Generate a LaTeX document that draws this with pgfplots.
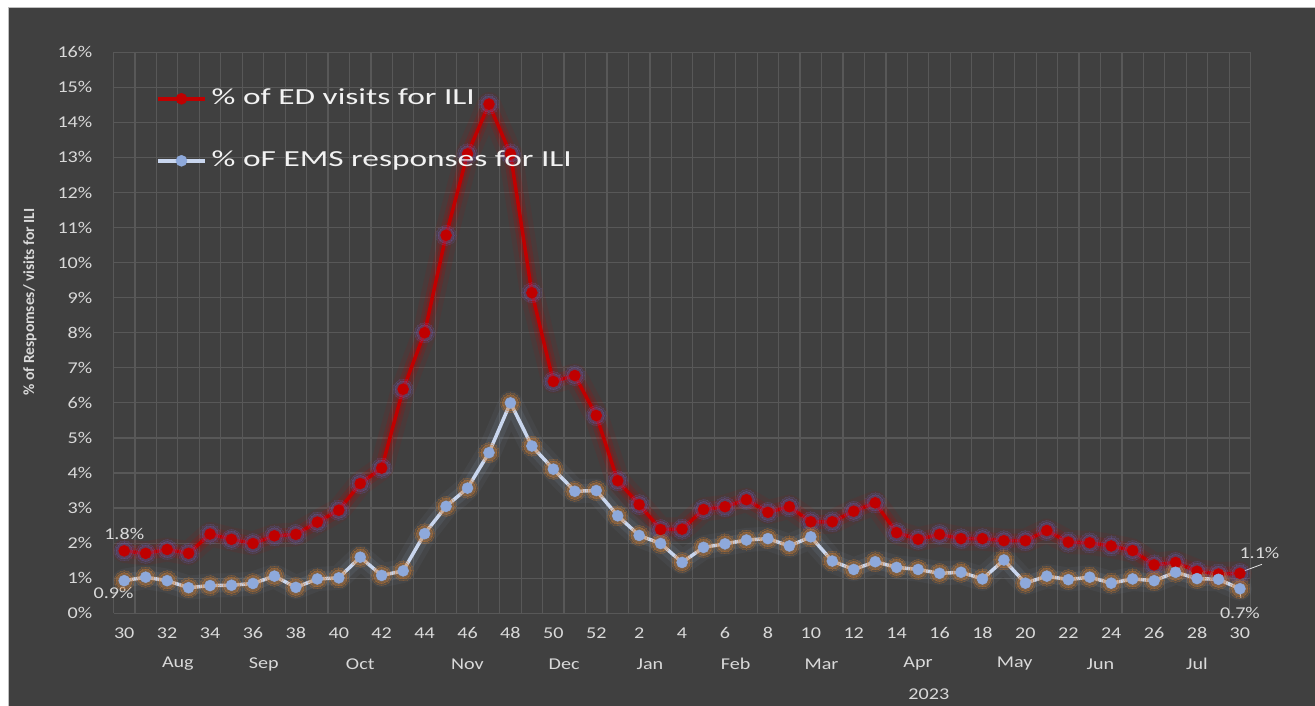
\documentclass[border=0pt]{standalone}
\usepackage{fontspec}
\setmainfont[FakeStretch=1.22]{Carlito}
\newfontfamily\ylabfont{Carlito}
\newfontfamily\legfont[FakeStretch=1.45]{Carlito}
\usepackage{pgfplots}
\usepackage{pgfplotstable}
\pgfplotsset{compat=1.18}

\definecolor{bg}{HTML}{404040}
\definecolor{gridc}{HTML}{585858}
\definecolor{tickc}{HTML}{D9D9D9}
\definecolor{legc}{HTML}{F2F2F2}
\definecolor{edc}{HTML}{C00000}
\definecolor{edglow}{HTML}{6A5CB0}
\definecolor{emsline}{HTML}{C9D6EE}
\definecolor{emsmark}{HTML}{8EA9DB}
\definecolor{emsglow}{HTML}{8497B0}
\definecolor{emsmglow}{HTML}{C8782F}

% idx: position on the axis, week: ISO week, ed / ems in percent
\pgfplotstableread{
idx week ed ems
0 30 1.78 0.93
1 31 1.71 1.03
2 32 1.82 0.93
3 33 1.71 0.73
4 34 2.26 0.79
5 35 2.11 0.80
6 36 1.99 0.85
7 37 2.21 1.06
8 38 2.25 0.74
9 39 2.60 0.98
10 40 2.94 1.01
11 41 3.70 1.60
12 42 4.14 1.08
13 43 6.39 1.21
14 44 8.00 2.27
15 45 10.78 3.05
16 46 13.10 3.57
17 47 14.52 4.58
18 48 13.10 6.00
19 49 9.14 4.77
20 50 6.61 4.11
21 51 6.78 3.48
22 52 5.64 3.50
23 1 3.78 2.78
24 2 3.10 2.22
25 3 2.39 1.99
26 4 2.40 1.45
27 5 2.96 1.88
28 6 3.04 1.98
29 7 3.24 2.09
30 8 2.88 2.13
31 9 3.04 1.92
32 10 2.61 2.18
33 11 2.61 1.49
34 12 2.91 1.25
35 13 3.15 1.47
36 14 2.30 1.31
37 15 2.11 1.25
38 16 2.25 1.14
39 17 2.13 1.17
40 18 2.13 0.98
41 19 2.07 1.52
42 20 2.07 0.86
43 21 2.36 1.06
44 22 2.03 0.96
45 23 2.01 1.03
46 24 1.92 0.86
47 25 1.79 0.98
48 26 1.38 0.93
49 27 1.45 1.17
50 28 1.20 0.99
51 29 1.12 0.97
52 30 1.14 0.70
}\ilidata

\begin{document}
\begin{tikzpicture}
\useasboundingbox (0,0) rectangle (1315bp,706bp);
\fill[white] (0,0) rectangle (1315bp,706bp);
\fill[bg] (8bp,0) rectangle (1315bp,698bp);
\draw[gray!50, line width=1bp] (8bp,0) -- (8bp,698bp) -- (1315bp,698bp);

\begin{axis}[
  at={(113.5bp,92.7bp)}, anchor=south west,
  scale only axis, width=1137.2bp, height=561.1bp,
  xmin=-0.5, xmax=52.5, ymin=0, ymax=16,
  clip=false,
  axis line style={draw=none},
  major tick length=0pt, minor tick length=0pt,
  xtick={0,2,...,52},
  xticklabels={30,32,34,36,38,40,42,44,46,48,50,52,2,4,6,8,10,12,14,16,18,20,22,24,26,28,30},
  minor xtick={-0.5,0.5,...,52.5},
  ytick={0,1,...,16},
  yticklabel={\pgfmathprintnumber{\tick}\%},
  /pgf/number format/assume math mode=true,
  ymajorgrids, xminorgrids,
  major grid style={draw=gridc, line width=1.2bp},
  minor grid style={draw=gridc, line width=1.2bp},
  tick label style={font=\fontsize{16.5bp}{20bp}\selectfont, text=tickc},
  xticklabel style={anchor=center, inner sep=0pt, yshift=-20bp},
  yticklabel style={anchor=east, inner sep=0pt, xshift=-21bp},
  legend image code/.code={
    \draw[#1, mark repeat=2, mark phase=2]
      plot coordinates {(0bp,0bp) (23.5bp,0bp) (47bp,0bp)};},
  legend cell align=left,
  legend style={draw=none, fill=none, at={(0.0374,0.936)}, anchor=north west,
    inner sep=0pt, row sep=41bp, column sep=5bp,
    font=\legfont\fontsize{23bp}{27bp}\selectfont, text=legc,
    nodes={inner sep=0pt, text height=16bp, text depth=5bp}},
]
% glow under the ED series
\addplot[forget plot, draw=edc, line width=24bp, opacity=0.08, line join=round, line cap=round] table[x=idx,y=ed]{\ilidata};
\addplot[forget plot, draw=edc, line width=14bp, opacity=0.16, line join=round, line cap=round] table[x=idx,y=ed]{\ilidata};
\addplot[forget plot, draw=edc, line width=8bp, opacity=0.22, line join=round, line cap=round] table[x=idx,y=ed]{\ilidata};
\addplot[forget plot, only marks, mark=*, mark size=10bp, mark options={fill=edglow, draw=edglow, line width=0pt, opacity=0.14}] table[x=idx,y=ed]{\ilidata};
\addplot[forget plot, only marks, mark=*, mark size=8bp, mark options={fill=edglow, draw=edglow, line width=0pt, opacity=0.22}] table[x=idx,y=ed]{\ilidata};
% glow under the EMS series
\addplot[forget plot, draw=emsglow, line width=24bp, opacity=0.08, line join=round, line cap=round] table[x=idx,y=ems]{\ilidata};
\addplot[forget plot, draw=emsglow, line width=14bp, opacity=0.14, line join=round, line cap=round] table[x=idx,y=ems]{\ilidata};
\addplot[forget plot, only marks, mark=*, mark size=10bp, mark options={fill=emsmglow, draw=emsmglow, line width=0pt, opacity=0.18}] table[x=idx,y=ems]{\ilidata};
\addplot[forget plot, only marks, mark=*, mark size=8bp, mark options={fill=emsmglow, draw=emsmglow, line width=0pt, opacity=0.30}] table[x=idx,y=ems]{\ilidata};

\addplot[draw=edc, line width=3.5bp, mark=*, mark size=5.5bp, mark options={solid, fill=edc, draw=edc, line width=0.5bp}] table[x=idx,y=ed]{\ilidata};
\addlegendentry{\% of ED visits for ILI}
\addplot[draw=emsline, line width=3.5bp, mark=*, mark size=5.5bp, mark options={solid, fill=emsmark, draw=emsmark, line width=0.5bp}] table[x=idx,y=ems]{\ilidata};
\addlegendentry{\% oF EMS responses for ILI}

% data labels
\begin{scope}[every node/.style={font=\fontsize{16.5bp}{20bp}\selectfont, text=tickc, inner sep=0pt}]
\node at (axis cs:0,1.78) [yshift=17bp] {1.8\%};
\node at (axis cs:0,0.93) [xshift=-10.7bp, yshift=-12.5bp] {0.9\%};
\node at (axis cs:52,1.14) [xshift=19.5bp, yshift=20bp] {1.1\%};
\draw[tickc!70, line width=0.8bp] (axis cs:52,1.14) ++(3bp,2bp) -- ++(19bp,7bp);
\node at (axis cs:52,0.70) [yshift=-24bp] {0.7\%};
\draw[tickc!70, line width=0.8bp] (axis cs:52,0.70) ++(0bp,-3bp) -- ++(1bp,-6bp);
% month and year labels
\node at (axis cs:2.5,0) [yshift=-50.7bp] {Aug};
\node at (axis cs:6.5,0) [yshift=-50.7bp] {Sep};
\node at (axis cs:11,0) [yshift=-50.7bp] {Oct};
\node at (axis cs:16,0) [yshift=-50.7bp] {Nov};
\node at (axis cs:20.5,0) [yshift=-50.7bp] {Dec};
\node at (axis cs:24.5,0) [yshift=-50.7bp] {Jan};
\node at (axis cs:28.5,0) [yshift=-50.7bp] {Feb};
\node at (axis cs:32.5,0) [yshift=-50.7bp] {Mar};
\node at (axis cs:37,0) [yshift=-50.7bp] {Apr};
\node at (axis cs:41.5,0) [yshift=-50.7bp] {May};
\node at (axis cs:45.5,0) [yshift=-50.7bp] {Jun};
\node at (axis cs:50,0) [yshift=-50.7bp] {Jul};
\node at (axis cs:37.5,0) [yshift=-81bp] {2023};
\end{scope}
\end{axis}

\node[rotate=90, font=\ylabfont\bfseries\fontsize{15.5bp}{18bp}\selectfont, text=tickc] at (30bp,404bp) {\% of Respomses/ visits for ILI};
\end{tikzpicture}
\end{document}
